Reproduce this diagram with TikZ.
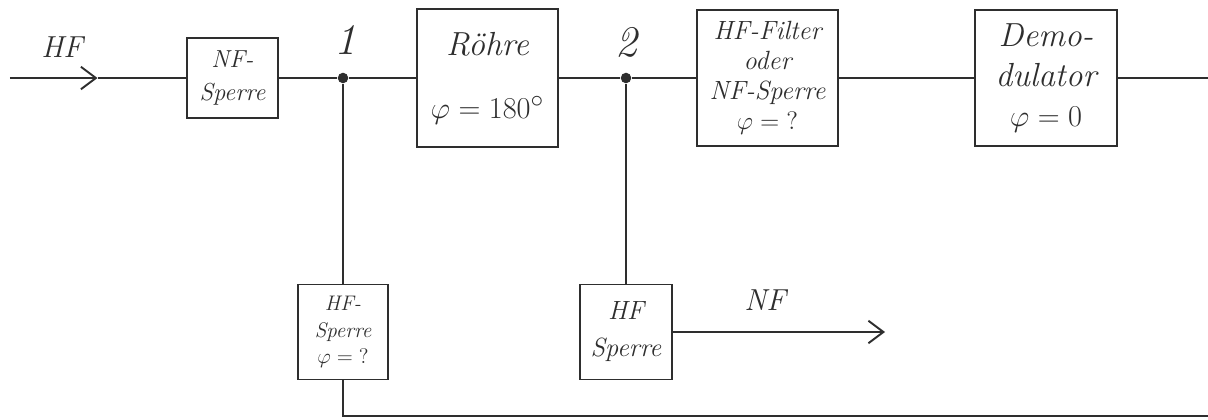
\documentclass[tikz,border=0pt]{standalone}
\usetikzlibrary{arrows.meta, positioning, calc}
\definecolor{cink}{HTML}{2E2E2E}
\tikzset{
  every picture/.style={line width=1.1pt},
  block/.style={draw=cink, text=cink, align=center, inner sep=2pt, font=\itshape},
  wire/.style={draw=cink},
  arrow/.style={-{Straight Barb[length=3mm, width=4.5mm]}, draw=cink},
  junction/.style={circle, fill=cink, inner sep=0pt, minimum size=6pt},
  tag/.style={font=\LARGE\itshape, text=cink},
}
\newcommand{\hand}[2]{\fontsize{#1}{#2}\selectfont\itshape}

\begin{document}
\begin{tikzpicture}
  \useasboundingbox (0,0) rectangle (24.16,-8.4);
  % the main path, left to right
  \coordinate (in) at (0.2,-1.56);
  \coordinate (tip) at (1.95,-1.56);
  \node[block, minimum width=1.82cm, minimum height=1.6cm, font=\hand{14}{19}] (nfsperre) at (4.65,-1.56) {NF-\\Sperre};
  \node[junction] (j1) at (6.86,-1.56) {};
  \node[block, minimum width=2.82cm, minimum height=2.76cm, font=\hand{19}{26}] (roehre) at (9.75,-1.56) {Röhre\\[10pt]$\varphi = 180^\circ$};
  \node[block, minimum width=2.82cm, minimum height=2.72cm, font=\hand{15}{17}] (filter) at (15.35,-1.56) {HF-Filter\\oder\\NF-Sperre\\$\varphi = {?}$};
  \node[junction] (j2) at (12.52,-1.56) {};
  \node[block, minimum width=2.84cm, minimum height=2.72cm, font=\hand{19}{23}] (demod) at (20.92,-1.56) {Demo-\\dulator\\$\varphi = 0$};
  \coordinate (out) at (24.16,-1.56);
  % the two branches below
  \node[block, minimum width=1.8cm, minimum height=1.9cm, font=\hand{12}{15}] (hfsperre) at (6.86,-6.64) {HF-\\Sperre\\$\varphi = {?}$};
  \node[block, minimum width=1.84cm, minimum height=1.9cm, font=\hand{15}{21}] (hfsperrenf) at (12.52,-6.64) {HF\\Sperre};
  \coordinate (nfout) at (17.7,-6.64);
  \coordinate (back) at (6.86,-8.32);
  \coordinate (backend) at (24.16,-8.32);
  % wires
  \draw[arrow] (in) -- (tip);
  \draw[wire] (tip) -- (nfsperre);
  \draw[wire] (nfsperre) -- (j1) -- (roehre);
  \draw[wire] (roehre) -- (j2) -- (filter);
  \draw[wire] (filter) -- (demod) -- (out);
  \draw[wire] (j1) -- (hfsperre) -- (back) -- (backend);
  \draw[wire] (j2) -- (hfsperrenf);
  \draw[arrow] (hfsperrenf) -- (nfout);
  % labels
  \node[tag] (lhf) at (1.24,-0.95) {HF};
  \node[tag, font=\Huge\itshape] (l1) at (6.9,-0.8) {1};
  \node[tag, font=\Huge\itshape] (l2) at (12.52,-0.84) {2};
  \node[tag] (lnf) at (15.3,-6.0) {NF};
\end{tikzpicture}
\end{document}
